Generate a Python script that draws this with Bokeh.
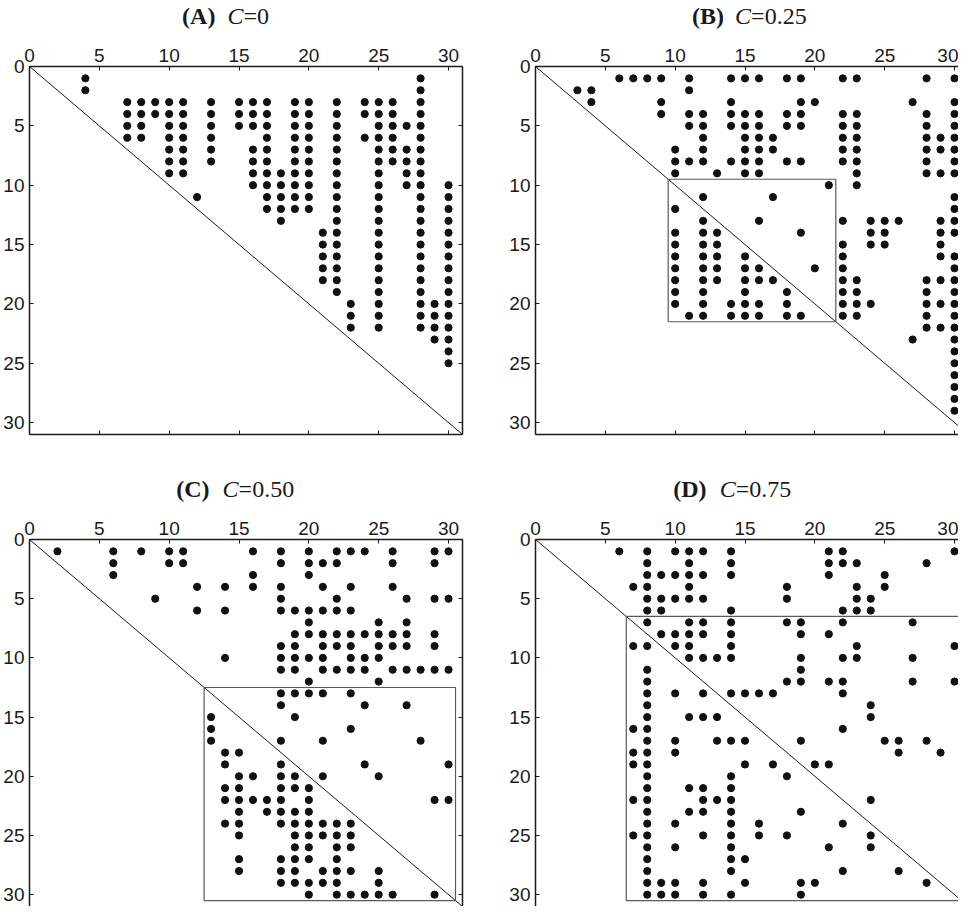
from bokeh.plotting import figure
from bokeh.models import Range1d, LinearAxis, FixedTicker, Div
from bokeh.layouts import row, column
from bokeh.embed import file_html
from bokeh.resources import INLINE

# ---------------- data ----------------
N_NODES = 31
TICKS = [0, 5, 10, 15, 20, 25, 30]

TITLE_TAGS = ["(A)", "(B)", "(C)", "(D)"]
TITLE_C_VALUES = ["=0", "=0.25", "=0.50", "=0.75"]

# cluster boxes [start, end] (same on both axes)
BOX_B = [9.5, 21.5]
BOX_C = [12.5, 30.5]
BOX_D = [6.5, 30.5]

# row index -> columns holding a dot
ROWS_A = {
    1: [4, 28], 2: [4, 28],
    3: [7, 8, 9, 10, 11, 13, 15, 16, 17, 19, 20, 22, 24, 25, 26, 28],
    4: [7, 8, 9, 10, 11, 13, 15, 16, 17, 19, 20, 22, 24, 25, 26, 28],
    5: [7, 8, 10, 11, 13, 15, 16, 17, 19, 20, 22, 25, 26, 27, 28],
    6: [7, 8, 10, 11, 13, 17, 19, 20, 22, 24, 25, 26, 28],
    7: [10, 11, 13, 16, 17, 19, 20, 22, 25, 26, 27, 28],
    8: [10, 11, 13, 16, 17, 19, 20, 22, 25, 26, 27, 28],
    9: [10, 11, 16, 17, 18, 19, 20, 22, 25, 27, 28],
    10: [16, 17, 18, 19, 20, 22, 25, 27, 28, 30],
    11: [12, 17, 18, 19, 20, 22, 25, 28, 30],
    12: [17, 18, 19, 20, 22, 25, 28, 30],
    13: [18, 22, 25, 28, 30],
    14: [21, 22, 25, 28, 30], 15: [21, 22, 25, 28, 30],
    16: [21, 22, 25, 28, 30], 17: [21, 22, 25, 28, 30],
    18: [21, 22, 25, 28, 30], 19: [22, 25, 28, 30],
    20: [23, 25, 28, 29, 30], 21: [23, 25, 28, 29, 30],
    22: [23, 25, 28, 29, 30], 23: [29, 30], 24: [30], 25: [30],
}

ROWS_B = {
    1: [6, 7, 8, 9, 11, 14, 15, 16, 18, 19, 22, 23, 28, 30],
    2: [3, 4, 11],
    3: [4, 9, 14, 19, 20, 27, 30],
    4: [9, 11, 12, 14, 15, 16, 18, 19, 22, 23, 28, 30],
    5: [11, 12, 14, 15, 16, 18, 19, 22, 23, 28, 30],
    6: [12, 15, 16, 17, 22, 23, 28, 29, 30],
    7: [10, 12, 15, 16, 17, 22, 23, 28, 29, 30],
    8: [10, 11, 12, 14, 15, 16, 18, 19, 22, 23, 28, 30],
    9: [10, 13, 15, 16, 23, 28, 29, 30],
    10: [21, 23],
    11: [12, 17, 30],
    12: [10, 30],
    13: [12, 16, 22, 24, 25, 26, 29, 30],
    14: [10, 12, 13, 19, 24, 25, 29, 30],
    15: [10, 12, 13, 22, 24, 25, 29],
    16: [10, 12, 13, 15, 22, 29, 30],
    17: [10, 12, 13, 15, 16, 20, 22, 30],
    18: [10, 12, 13, 15, 16, 17, 22, 23, 28, 29, 30],
    19: [10, 12, 15, 18, 22, 23, 28, 30],
    20: [10, 12, 14, 15, 16, 18, 22, 23, 24, 28, 29, 30],
    21: [11, 12, 14, 15, 16, 18, 19, 22, 23, 28, 30],
    22: [28, 29, 30], 23: [27, 30],
    24: [30], 25: [30], 26: [30], 27: [30], 28: [30], 29: [30],
}

ROWS_C = {
    1: [2, 6, 8, 10, 11, 16, 18, 20, 22, 23, 24, 26, 29, 30],
    2: [6, 10, 11, 18, 20, 21, 22, 26, 29],
    3: [6, 16, 20],
    4: [12, 14, 16, 18, 21, 23, 26],
    5: [9, 18, 22, 27, 29, 30],
    6: [12, 14, 18, 19, 20, 21, 22, 23],
    7: [20, 25, 27],
    8: [19, 20, 21, 22, 23, 24, 25, 26, 27, 29],
    9: [18, 19, 21, 22, 23, 25, 26, 27, 29],
    10: [14, 18, 19, 20, 21, 23, 24, 25],
    11: [18, 19, 21, 22, 23, 24, 26, 27, 28, 29, 30],
    12: [20, 25],
    13: [18, 19, 20, 21, 23],
    14: [18, 24, 27],
    15: [13, 19],
    16: [13, 23],
    17: [13, 18, 21, 28],
    18: [14, 15],
    19: [14, 18, 24, 30],
    20: [15, 16, 18, 19, 21, 25],
    21: [14, 15, 18, 19, 20],
    22: [14, 15, 16, 17, 18, 20, 29, 30],
    23: [15, 17, 18, 19, 20],
    24: [14, 15, 18, 19, 20, 21, 22, 23],
    25: [15, 19, 20, 21, 22, 23],
    26: [19, 20, 22, 23],
    27: [15, 18, 19, 20, 22],
    28: [15, 18, 19, 21, 22, 23, 25],
    29: [18, 19, 20, 21, 22, 25],
    30: [20, 22, 23, 24, 25, 26, 29],
}

ROWS_D = {
    1: [6, 8, 10, 11, 12, 14, 21, 22, 30],
    2: [8, 11, 14, 21, 22, 23, 28],
    3: [8, 9, 10, 11, 12, 14, 21, 25],
    4: [7, 8, 11, 18, 23, 25],
    5: [8, 9, 10, 11, 12, 18, 23, 24],
    6: [8, 9, 14, 22, 23, 24],
    7: [8, 11, 12, 14, 18, 19, 22, 27],
    8: [9, 10, 11, 12, 14, 19, 21],
    9: [7, 8, 10, 11, 14, 23, 30],
    10: [11, 12, 13, 14, 19, 22, 23, 27],
    11: [8, 19],
    12: [8, 18, 19, 21, 22, 27, 30],
    13: [8, 10, 12, 14, 15, 16, 17, 22],
    14: [8, 24],
    15: [8, 11, 12, 13, 24],
    16: [7, 8, 22],
    17: [8, 10, 13, 14, 15, 19, 25, 26, 28],
    18: [7, 8, 10, 26, 29],
    19: [7, 8, 15, 17, 20, 21],
    20: [8, 14, 18],
    21: [8, 11, 12, 14],
    22: [7, 8, 12, 13, 14, 24],
    23: [8, 11, 12, 14, 19],
    24: [8, 10, 14, 16, 22],
    25: [7, 8, 12, 14, 16, 18, 24],
    26: [8, 10, 14, 21, 24],
    27: [8, 14, 15],
    28: [8, 14, 22, 26],
    29: [8, 9, 10, 12, 15, 19, 20, 28],
    30: [8, 9, 10, 12, 14, 19],
}

# ---------------- styling / layout ----------------
INK = "#1a1a1a"
FRAME_W = 433          # full 0..31 frame width
UNIT_X = FRAME_W / N_NODES
LEFT_BORDER = 29
TITLE_H = 34           # height of the title strip above each panel
TOP_BORDER = 32        # room for the top tick labels


def to_xy(rows):
    xs, ys = [], []
    for r, cols in rows.items():
        for c in cols:
            xs.append(c)
            ys.append(r)
    return xs, ys


def make_axis(show_labels):
    ax = LinearAxis(ticker=FixedTicker(ticks=TICKS))
    ax.major_tick_in = 4
    ax.major_tick_out = 0
    ax.minor_tick_line_color = None
    ax.axis_line_color = INK
    ax.axis_line_width = 1.5
    ax.major_tick_line_color = INK
    ax.major_tick_line_width = 1
    ax.major_label_text_font = "Liberation Sans"
    ax.major_label_text_font_size = "19px"
    ax.major_label_text_color = INK
    ax.major_label_standoff = 5
    if not show_labels:
        ax.major_label_overrides = {t: "" for t in TICKS}
        ax.major_label_standoff = 0
    return ax


def title_strip(width, tag, cval, offsets):
    o_tag, o_c = offsets
    top = 4
    html = (
        f'<div style="position:relative;width:{width}px;height:{TITLE_H}px;'
        f"font-family:'Liberation Serif',serif;font-size:24px;line-height:24px;"
        f'color:{INK};white-space:nowrap;">'
        f'<span style="position:absolute;left:{LEFT_BORDER + o_tag:.1f}px;top:{top}px;'
        f'font-weight:bold;">{tag}</span>'
        f'<span style="position:absolute;left:{LEFT_BORDER + o_c:.1f}px;top:{top}px;">'
        f'<i>C</i>{cval}</span></div>'
    )
    return Div(text=html, width=width, height=TITLE_H,
               styles={"margin": "0", "padding": "0", "overflow": "visible"})


def make_panel(rows, width, height, mb_right, mb_bottom, frame_w,
               sides, box):
    x_end = frame_w / UNIT_X
    p = figure(width=width, height=height, title=None,
               x_range=Range1d(0, x_end), y_range=Range1d(N_NODES, 0),
               output_backend="svg", toolbar_location=None,
               x_axis_location=None, y_axis_location=None,
               min_border_left=LEFT_BORDER, min_border_top=TOP_BORDER,
               min_border_right=mb_right, min_border_bottom=mb_bottom)
    p.outline_line_color = None
    p.background_fill_color = "white"
    p.border_fill_color = "white"
    p.grid.visible = False

    p.add_layout(make_axis(True), "above")
    p.add_layout(make_axis(True), "left")
    if "right" in sides:
        p.add_layout(make_axis(False), "right")
    if "below" in sides:
        p.add_layout(make_axis(False), "below")

    # diagonal
    p.line([0, N_NODES], [0, N_NODES], line_color=INK, line_width=1)
    # cluster box
    if box is not None:
        p.quad(left=[box[0]], right=[box[1]], top=[box[0]], bottom=[box[1]],
               fill_color=None, line_color="#5a5a5a", line_width=1.2)

    xs, ys = to_xy(rows)
    p.scatter(xs, ys, size=7.2, color="#111111", line_color="#111111")
    return p


def panel_block(rows, width, height, mb_right, mb_bottom, frame_w, sides,
                box, idx, offsets):
    t = title_strip(width, TITLE_TAGS[idx], TITLE_C_VALUES[idx], offsets)
    p = make_panel(rows, width, height - TITLE_H, mb_right, mb_bottom,
                   frame_w, sides, box)
    return column(t, p, spacing=0)


bA = panel_block(ROWS_A, 506, 473, 44, 39, 433, ("right", "below"), None,
                 0, (153.1, 198.4))
bB = panel_block(ROWS_B, 452, 473, 0, 39, 423, ("below",), BOX_B,
                 1, (157.1, 200.1))
bC = panel_block(ROWS_C, 506, 433, 44, 0, 433, ("right",), BOX_C,
                 2, (147.2, 193.6))
bD = panel_block(ROWS_D, 452, 433, 0, 0, 423, (), BOX_D,
                 3, (138.3, 184.7))

layout = column(row(bA, bB, spacing=0), row(bC, bD, spacing=0), spacing=0)

open("out.html", "w").write(file_html(layout, INLINE))
